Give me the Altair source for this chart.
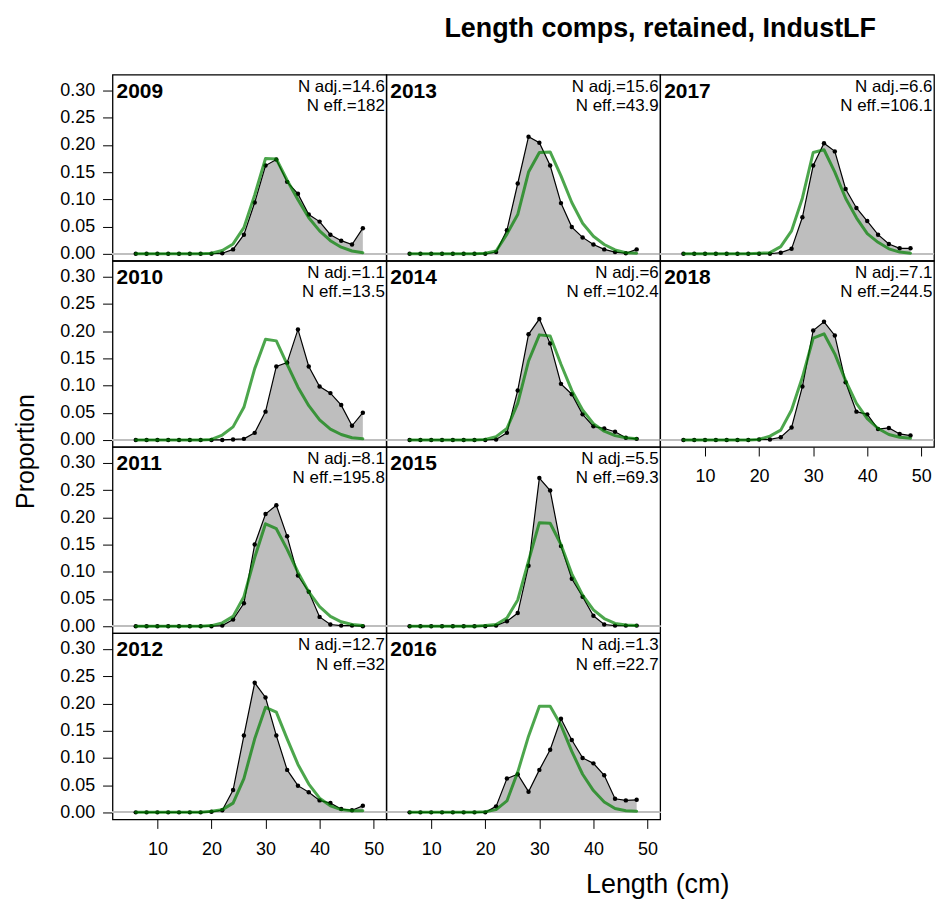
import altair as alt
import pandas as pd

FONT = "Liberation Sans"

lengths = [6, 8, 10, 12, 14, 16, 18, 20, 22, 24, 26, 28, 30, 32, 34, 36, 38, 40, 42, 44, 46, 48]
years = [2009, 2010, 2011, 2012, 2013, 2014, 2015, 2016, 2017, 2018]

obs_2009 = [0, 0, 0, 0, 0, 0, 0, 0, 0.001, 0.008, 0.035, 0.094, 0.162, 0.173, 0.132, 0.110, 0.072, 0.059, 0.035, 0.024, 0.017, 0.047]
exp_2009 = [0, 0, 0, 0, 0, 0, 0, 0.001, 0.006, 0.018, 0.048, 0.108, 0.175, 0.174, 0.135, 0.099, 0.066, 0.042, 0.024, 0.012, 0.005, 0.002]
obs_2010 = [0, 0, 0, 0, 0, 0, 0, 0, 0, 0.001, 0.002, 0.013, 0.052, 0.135, 0.142, 0.203, 0.135, 0.098, 0.086, 0.064, 0.026, 0.050]
exp_2010 = [0, 0, 0, 0, 0, 0, 0, 0.001, 0.009, 0.024, 0.060, 0.131, 0.185, 0.182, 0.139, 0.097, 0.063, 0.037, 0.020, 0.010, 0.004, 0.002]
obs_2011 = [0, 0, 0, 0, 0, 0, 0, 0, 0.001, 0.012, 0.042, 0.150, 0.206, 0.222, 0.165, 0.093, 0.063, 0.017, 0.003, 0.001, 0.001, 0.0]
exp_2011 = [0, 0, 0, 0, 0, 0, 0, 0.001, 0.006, 0.018, 0.054, 0.126, 0.188, 0.179, 0.141, 0.099, 0.063, 0.036, 0.018, 0.008, 0.003, 0.001]
obs_2012 = [0, 0, 0, 0, 0, 0, 0, 0.001, 0.004, 0.041, 0.141, 0.238, 0.211, 0.141, 0.078, 0.049, 0.037, 0.022, 0.017, 0.006, 0.004, 0.012]
exp_2012 = [0, 0, 0, 0, 0, 0, 0, 0.002, 0.005, 0.017, 0.062, 0.135, 0.193, 0.184, 0.135, 0.088, 0.052, 0.026, 0.012, 0.005, 0.003, 0.003]
obs_2013 = [0, 0, 0, 0, 0, 0, 0, 0, 0.003, 0.043, 0.129, 0.215, 0.204, 0.162, 0.093, 0.049, 0.030, 0.017, 0.008, 0.003, 0.001, 0.008]
exp_2013 = [0, 0, 0, 0, 0, 0, 0, 0.001, 0.005, 0.036, 0.072, 0.150, 0.186, 0.187, 0.143, 0.094, 0.056, 0.032, 0.017, 0.007, 0.002, 0.001]
obs_2014 = [0, 0, 0, 0, 0, 0, 0, 0, 0.001, 0.013, 0.091, 0.194, 0.222, 0.177, 0.103, 0.084, 0.047, 0.025, 0.021, 0.015, 0.004, 0.002]
exp_2014 = [0, 0, 0, 0, 0, 0, 0, 0.001, 0.006, 0.021, 0.067, 0.145, 0.193, 0.191, 0.139, 0.091, 0.055, 0.030, 0.016, 0.008, 0.004, 0.002]
obs_2015 = [0, 0, 0, 0, 0, 0, 0, 0, 0.001, 0.009, 0.024, 0.111, 0.272, 0.249, 0.147, 0.087, 0.054, 0.019, 0.003, 0.001, 0.001, 0.001]
exp_2015 = [0, 0, 0, 0, 0, 0, 0, 0.001, 0.003, 0.015, 0.048, 0.120, 0.190, 0.189, 0.150, 0.096, 0.057, 0.030, 0.014, 0.005, 0.002, 0.001]
obs_2016 = [0, 0, 0, 0, 0, 0, 0, 0, 0.011, 0.062, 0.070, 0.038, 0.078, 0.115, 0.172, 0.133, 0.100, 0.090, 0.068, 0.025, 0.022, 0.023]
exp_2016 = [0, 0, 0, 0, 0, 0, 0, 0.001, 0.005, 0.021, 0.074, 0.140, 0.195, 0.195, 0.160, 0.112, 0.070, 0.040, 0.019, 0.007, 0.003, 0.002]
obs_2017 = [0, 0, 0, 0, 0, 0, 0, 0, 0, 0.002, 0.009, 0.067, 0.162, 0.203, 0.188, 0.119, 0.084, 0.060, 0.035, 0.018, 0.010, 0.010]
exp_2017 = [0, 0, 0, 0, 0, 0, 0, 0.001, 0.002, 0.013, 0.042, 0.102, 0.186, 0.191, 0.150, 0.102, 0.066, 0.037, 0.021, 0.009, 0.003, 0.001]
obs_2018 = [0, 0, 0, 0, 0, 0, 0, 0.001, 0.001, 0.005, 0.023, 0.098, 0.201, 0.217, 0.192, 0.106, 0.052, 0.047, 0.020, 0.022, 0.011, 0.008]
exp_2018 = [0, 0, 0, 0, 0, 0, 0, 0.001, 0.007, 0.018, 0.055, 0.115, 0.187, 0.195, 0.158, 0.109, 0.067, 0.039, 0.021, 0.010, 0.005, 0.003]

obs = [obs_2009, obs_2010, obs_2011, obs_2012, obs_2013, obs_2014, obs_2015, obs_2016, obs_2017, obs_2018]
exp = [exp_2009, exp_2010, exp_2011, exp_2012, exp_2013, exp_2014, exp_2015, exp_2016, exp_2017, exp_2018]
n_adj = ["14.6", "1.1", "8.1", "12.7", "15.6", "6", "5.5", "1.3", "6.6", "7.1"]
n_eff = ["182", "13.5", "195.8", "32", "43.9", "102.4", "69.3", "22.7", "106.1", "244.5"]

x_ticks = [10, 20, 30, 40, 50]
y_ticks = [0.0, 0.05, 0.10, 0.15, 0.20, 0.25, 0.30]

main_title = "Length comps, retained, IndustLF"
x_title = "Length (cm)"
y_title = "Proportion"

W, H = 275, 187
XDOM = [1.7, 52.35]
YDOM = [-0.013, 0.329]


def panel(i, show_y=False, show_x=False, y_label=False, x_label=False, top_title=False):
    df = pd.DataFrame({"len": lengths, "obs": obs[i], "exp": exp[i], "zero": [0.0] * len(lengths)})

    if show_x:
        xaxis = alt.Axis(values=x_ticks, tickSize=9, tickColor="black", tickWidth=1,
                         domain=False, grid=False, labelFontSize=18, labelFont=FONT,
                         labelColor="black", labelPadding=12, labelOverlap=False,
                         labelFlush=False,
                         title=x_title if x_label else None,
                         titleFont=FONT, titleFontSize=27, titleFontWeight="normal",
                         titleColor="black", titleX=272, titleY=73,
                         titleBaseline="alphabetic", titleAlign="center")
    else:
        xaxis = None
    if show_y:
        yaxis = alt.Axis(values=y_ticks, format=".2f", tickSize=10, tickColor="black",
                         tickWidth=1, domain=False, grid=False, labelFontSize=18,
                         labelFont=FONT, labelColor="black", labelPadding=8,
                         labelOverlap=False, labelFlush=False,
                         title=y_title if y_label else None,
                         titleFont=FONT, titleFontSize=25, titleFontWeight="normal",
                         titleColor="black", titleAngle=270, titleX=-79, titleY=191,
                         titleBaseline="alphabetic", titleAlign="center")
    else:
        yaxis = None

    X = alt.X("len:Q", scale=alt.Scale(domain=XDOM, nice=False, zero=False), axis=xaxis)

    def Y(field):
        return alt.Y(f"{field}:Q", scale=alt.Scale(domain=YDOM, nice=False, zero=False), axis=yaxis)

    base = alt.Chart(df)
    zero_line = base.mark_rule(color="#bebebe", strokeWidth=1).encode(
        y=Y("zero"), x=alt.value(0), x2=alt.value(W))
    area = base.mark_area(color="#bebebe", opacity=1).encode(x=X, y=Y("obs"))
    line = base.mark_line(color="black", strokeWidth=1.2).encode(x=X, y=Y("obs"))
    pts = base.mark_circle(color="black", size=20, opacity=1).encode(x=X, y=Y("obs"))
    green = base.mark_line(color="#008000", opacity=0.7, strokeWidth=3,
                           strokeJoin="round", strokeCap="round").encode(x=X, y=Y("exp"))

    lab = pd.DataFrame({"year": [str(years[i])],
                        "adj": ["N adj.=" + n_adj[i]],
                        "eff": ["N eff.=" + n_eff[i]]})
    lb = alt.Chart(lab)
    t_year = lb.mark_text(align="left", baseline="alphabetic", font=FONT, fontSize=21,
                          fontWeight="bold", color="black").encode(
        text="year:N", x=alt.value(4), y=alt.value(23))
    t_adj = lb.mark_text(align="right", baseline="alphabetic", font=FONT, fontSize=17,
                         color="black").encode(text="adj:N", x=alt.value(W - 1.5), y=alt.value(17))
    t_eff = lb.mark_text(align="right", baseline="alphabetic", font=FONT, fontSize=17,
                         color="black").encode(text="eff:N", x=alt.value(W - 1.5), y=alt.value(36.5))

    layers = [area, zero_line, line, pts, green, t_year, t_adj, t_eff]
    if top_title:
        tt = alt.Chart(pd.DataFrame({"t": [main_title]})).mark_text(
            align="center", baseline="alphabetic", font=FONT, fontSize=27,
            fontWeight="bold", color="black").encode(text="t:N", x=alt.value(W), y=alt.value(-38))
        layers.append(tt)
    return alt.layer(*layers).properties(width=W, height=H)


def blank():
    return alt.Chart(pd.DataFrame({"t": [""]})).mark_text().encode(
        text="t:N", x=alt.value(0), y=alt.value(0)
    ).properties(width=W, height=H, view=alt.ViewBackground(stroke="transparent", strokeOpacity=0))


# grid order is row-major: (2009, 2013, 2017), (2010, 2014, 2018), (2011, 2015, -), (2012, 2016)
cells = [
    panel(0, show_y=True), panel(4, top_title=True), panel(8),
    panel(1, show_y=True, y_label=True), panel(5), panel(9, show_x=True),
    panel(2, show_y=True), panel(6), blank(),
    panel(3, show_y=True, show_x=True), panel(7, show_x=True, x_label=True),
]

chart = alt.concat(*cells, columns=3, spacing=0, bounds="flush").properties(
    padding={"left": 13, "top": 12, "right": 2, "bottom": 5}
).configure(
    font=FONT, background="white",
    view=alt.ViewConfig(stroke="black", strokeWidth=1.3),
)

chart.save("out.html", embed_options={"renderer": "svg", "actions": False})
